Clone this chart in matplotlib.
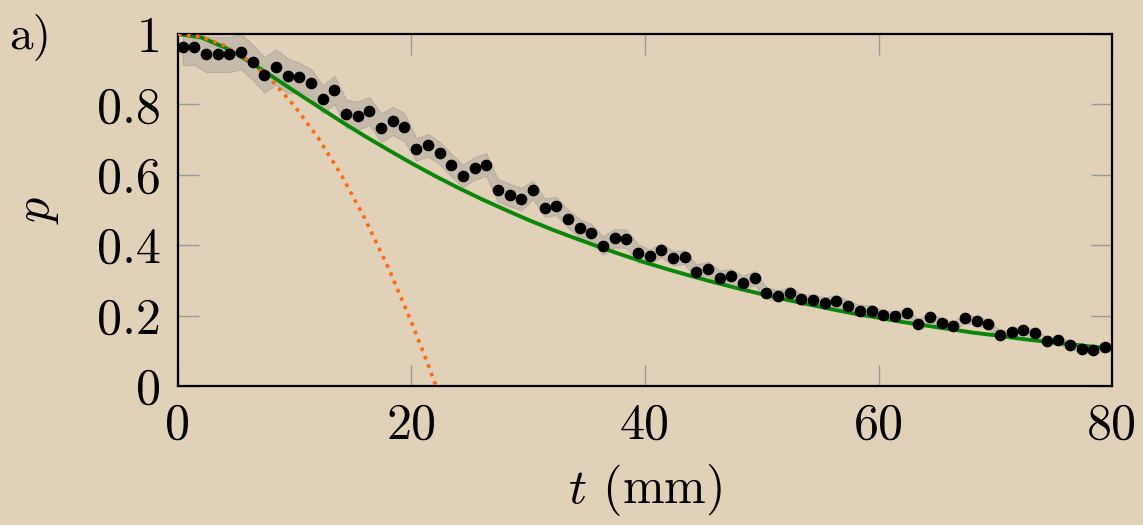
import numpy as np  # numerical arrays
import matplotlib
matplotlib.use('Agg')
import matplotlib.pyplot as plt  # plotting

# Measured survival probability p, one point per mm starting at 0.4 mm
t_start = 0.4
p_meas = [0.962, 0.962, 0.942, 0.942, 0.942, 0.950, 0.920, 0.884, 0.906, 0.881,
          0.878, 0.860, 0.815, 0.841, 0.773, 0.768, 0.781, 0.734, 0.753, 0.735,
          0.672, 0.684, 0.662, 0.628, 0.597, 0.618, 0.629, 0.556, 0.543, 0.531,
          0.557, 0.507, 0.511, 0.475, 0.448, 0.435, 0.399, 0.420, 0.418, 0.377,
          0.368, 0.386, 0.363, 0.366, 0.325, 0.333, 0.308, 0.313, 0.293, 0.307,
          0.265, 0.256, 0.265, 0.246, 0.243, 0.236, 0.242, 0.227, 0.214, 0.214,
          0.201, 0.199, 0.206, 0.177, 0.195, 0.179, 0.170, 0.192, 0.185, 0.176,
          0.146, 0.152, 0.159, 0.150, 0.128, 0.130, 0.116, 0.106, 0.102, 0.110]
# Half-width of the grey uncertainty band, one value per 10 mm block
band_halfwidth = [0.050, 0.040, 0.032, 0.026, 0.020, 0.016, 0.013, 0.011]

# Green model curve, read every 2 mm
t_green = [0, 2, 4, 6, 8, 10, 12, 14, 16, 18, 20, 22, 24, 26, 28, 30, 32, 34, 36, 38, 40,
           42, 44, 46, 48, 50, 52, 54, 56, 58, 60, 62, 64, 66, 68, 70, 72, 74, 76, 78, 80]
p_green = [1.000, 0.990, 0.962, 0.924, 0.881, 0.837, 0.794, 0.751, 0.710, 0.671, 0.633,
           0.597, 0.563, 0.531, 0.501, 0.472, 0.445, 0.420, 0.396, 0.373, 0.351,
           0.331, 0.312, 0.294, 0.277, 0.261, 0.246, 0.232, 0.218, 0.205, 0.194,
           0.182, 0.172, 0.162, 0.152, 0.144, 0.135, 0.127, 0.120, 0.113, 0.106]

# Orange short-time curve
t_orange = [0, 2, 4, 6, 8, 10, 12, 14, 16, 18, 20, 21, 22.1]
p_orange = [1.000, 0.992, 0.967, 0.926, 0.869, 0.795, 0.705, 0.599, 0.476, 0.337, 0.181, 0.097, 0.0]

x_ticks = [0, 20, 40, 60, 80]
y_ticks = [0, 0.2, 0.4, 0.6, 0.8, 1]
y_tick_labels = ['0', '0.2', '0.4', '0.6', '0.8', '1']

plt.rcParams['font.family'] = 'cmr10'
plt.rcParams['mathtext.fontset'] = 'cm'
plt.rcParams['axes.formatter.use_mathtext'] = True

bg = '#e0d1b8'
fig = plt.figure(figsize=(11.43, 5.25), dpi=100, facecolor=bg)
ax = fig.add_axes([0.1557, 0.2648, 0.8172, 0.6704], facecolor=bg)

t_meas = t_start + np.arange(len(p_meas))
p_meas = np.array(p_meas)
hw = np.repeat(band_halfwidth, 10)[:len(p_meas)]

# grey band, green model, orange curve and the measured dots
ax.fill_between(t_meas, p_meas - hw, p_meas + hw, color='#a8a29c', alpha=0.45,
                edgecolor='#9c968f', linewidth=0.8, zorder=1)
ax.plot(t_green, p_green, color='#0a870a', linewidth=2.8, zorder=2)
ax.plot(t_orange, p_orange, color='#ff6a10', linewidth=2.6, linestyle=(0, (1, 1.5)), zorder=3)
ax.plot(t_meas, p_meas, 'o', color='black', markersize=7.4, zorder=4)

ax.set_xlim(0, 80)
ax.set_ylim(0, 1)
ax.set_xticks(x_ticks)
ax.set_xticklabels([str(v) for v in x_ticks])
ax.set_yticks(y_ticks)
ax.set_yticklabels(y_tick_labels)
ax.tick_params(direction='in', length=15, width=1.0, color='#9a9a9a',
               top=True, right=True, labelsize=36, pad=12)
for s in ax.spines.values():
    s.set_linewidth(1.6)

ax.set_xlabel('$t$ (mm)', fontsize=36, labelpad=10)
ax.set_ylabel('$p$', fontsize=36, labelpad=26)
fig.text(0.008, 0.975, 'a)', fontsize=34, va='top', ha='left')

fig.savefig('out.png', dpi=100, facecolor=bg)
